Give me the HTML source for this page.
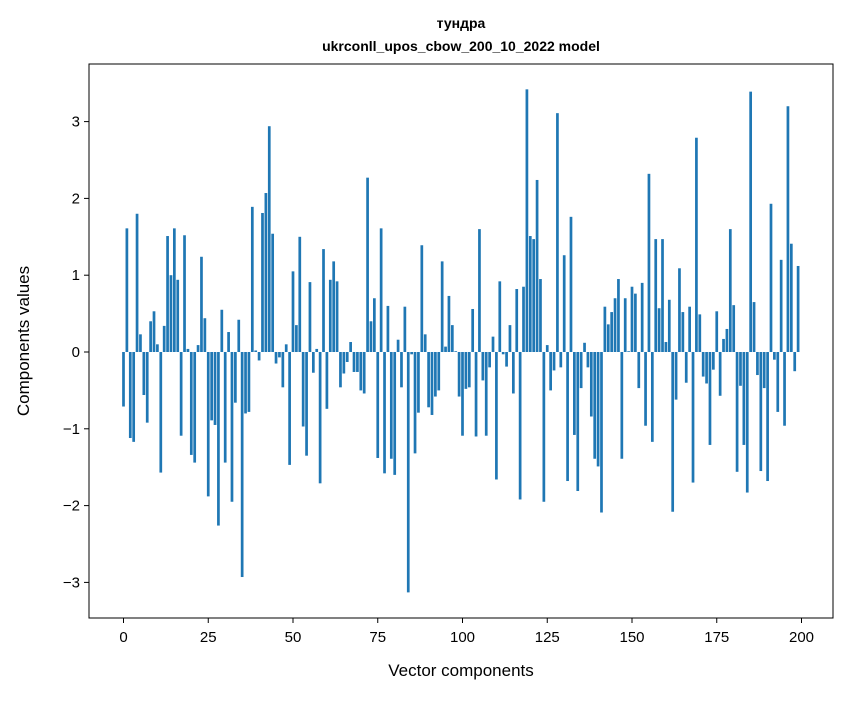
<!DOCTYPE html>
<html><head><meta charset="utf-8"><style>
body{margin:0;background:#fff;}
svg text{font-family:"Liberation Sans","DejaVu Sans",sans-serif;fill:#000;}
</style></head><body>
<svg id="chart" width="847" height="696" viewBox="0 0 847 696" xmlns="http://www.w3.org/2000/svg">
<rect x="0" y="0" width="847" height="696" fill="#fff"/>
<text x="461" y="28" text-anchor="middle" font-size="14" font-weight="bold">тундра</text>
<text x="461" y="51" text-anchor="middle" font-size="14" font-weight="bold">ukrconll_upos_cbow_200_10_2022 model</text>
<g id="bars"></g>
<g id="axes"></g>
<rect x="89" y="64" width="744" height="554" fill="none" stroke="#000" stroke-width="1"/>
<text x="461" y="676" text-anchor="middle" font-size="17">Vector components</text>
<text transform="translate(29,341) rotate(-90)" text-anchor="middle" font-size="17">Components values</text>
</svg>
<script>
const values = [
-0.71,1.61,-1.12,-1.17,1.80,0.23,-0.56,-0.92,0.40,0.53,
0.10,-1.57,0.34,1.51,1.00,1.61,0.94,-1.09,1.52,0.04,
-1.34,-1.44,0.09,1.24,0.44,-1.88,-0.89,-0.95,-2.26,0.55,
-1.44,0.26,-1.95,-0.66,0.42,-2.93,-0.80,-0.78,1.89,0.02,
-0.11,1.81,2.07,2.94,1.54,-0.15,-0.07,-0.46,0.10,-1.47,
1.05,0.35,1.50,-0.97,-1.35,0.91,-0.27,0.04,-1.71,1.34,
-0.74,0.94,1.18,0.92,-0.46,-0.28,-0.13,0.13,-0.26,-0.26,
-0.50,-0.54,2.27,0.40,0.70,-1.38,1.61,-1.58,0.60,-1.39,
-1.60,0.16,-0.46,0.59,-3.13,-0.03,-1.32,-0.79,1.39,0.23,
-0.72,-0.82,-0.58,-0.50,1.18,0.07,0.73,0.35,0.01,-0.58,
-1.09,-0.48,-0.46,0.56,-1.10,1.60,-0.37,-1.09,-0.20,0.20,
-1.66,0.92,-0.03,-0.19,0.35,-0.54,0.82,-1.92,0.85,3.42,
1.51,1.47,2.24,0.95,-1.95,0.09,-0.50,-0.24,3.11,-0.20,
1.26,-1.68,1.76,-1.08,-1.81,-0.47,0.12,-0.20,-0.84,-1.39,
-1.49,-2.09,0.59,0.36,0.52,0.70,0.95,-1.39,0.70,0.01,
0.85,0.76,-0.47,0.90,-0.96,2.32,-1.17,1.47,0.57,1.47,
0.13,0.68,-2.08,-0.62,1.09,0.52,-0.40,0.59,-1.70,2.79,
0.49,-0.32,-0.41,-1.21,-0.23,0.53,-0.57,0.17,0.30,1.60,
0.61,-1.56,-0.44,-1.21,-1.83,3.39,0.65,-0.30,-1.55,-0.47,
-1.68,1.93,-0.10,-0.78,1.20,-0.96,3.20,1.41,-0.25,1.12
];
const xTicks = [0,25,50,75,100,125,150,175,200];
const yTicks = [-3,-2,-1,0,1,2,3];
const xLabels = ["0","25","50","75","100","125","150","175","200"];
const yLabels = ["\u22123","\u22122","\u22121","0","1","2","3"];

const NS = "http://www.w3.org/2000/svg";
function xs(i){ return 123.5 + 3.39*i; }
function ys(v){ return 352 - 76.8*v; }
const barW = 0.8*3.39;

const barsG = document.getElementById('bars');
values.forEach((v,i)=>{
  const r = document.createElementNS(NS,'rect');
  const y0 = ys(0), y1 = ys(v);
  r.setAttribute('x', xs(i)-barW/2);
  r.setAttribute('y', Math.min(y0,y1));
  r.setAttribute('width', barW);
  r.setAttribute('height', Math.abs(y1-y0));
  r.setAttribute('fill', '#1f77b4');
  
  
  barsG.appendChild(r);
});

const axesG = document.getElementById('axes');
xTicks.forEach((t,k)=>{
  const x = xs(t);
  const l = document.createElementNS(NS,'line');
  l.setAttribute('x1',x); l.setAttribute('x2',x);
  l.setAttribute('y1',618); l.setAttribute('y2',623);
  l.setAttribute('stroke','#000');
  
  
  axesG.appendChild(l);
  const tx = document.createElementNS(NS,'text');
  tx.setAttribute('x',x); tx.setAttribute('y',642);
  tx.setAttribute('text-anchor','middle'); tx.setAttribute('font-size','15');
  tx.textContent = xLabels[k];
  
  
  axesG.appendChild(tx);
});
yTicks.forEach((t,k)=>{
  const y = ys(t);
  const l = document.createElementNS(NS,'line');
  l.setAttribute('x1',84); l.setAttribute('x2',89);
  l.setAttribute('y1',y); l.setAttribute('y2',y);
  l.setAttribute('stroke','#000');
  
  
  axesG.appendChild(l);
  const tx = document.createElementNS(NS,'text');
  tx.setAttribute('x',80); tx.setAttribute('y',y+5);
  tx.setAttribute('text-anchor','end'); tx.setAttribute('font-size','15');
  tx.textContent = yLabels[k];
  
  
  axesG.appendChild(tx);
});
</script>
</body></html>
